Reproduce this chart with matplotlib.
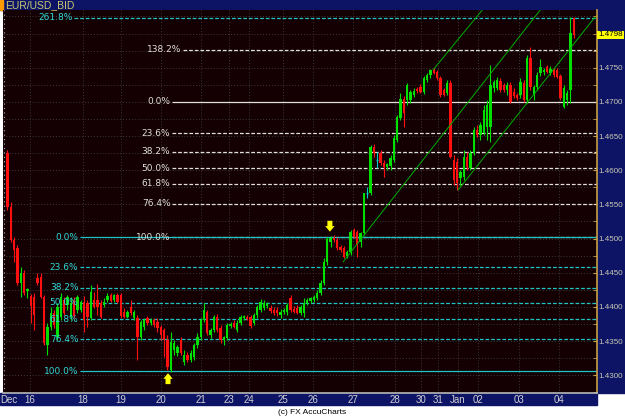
import numpy as np
import matplotlib
matplotlib.use('Agg')
import matplotlib.pyplot as plt
from matplotlib.patches import Rectangle
from matplotlib import font_manager

# ================================
# DATA  (EUR/USD, 2-hour bars)
# ================================

opens = [1.4625, 1.4546, 1.4498, 1.4486, 1.4435, 1.4450, 1.4423, 1.4416, 1.4414, 1.4442,
         1.4444, 1.4414, 1.4344, 1.4371, 1.4391, 1.4356, 1.4385, 1.4410, 1.4403, 1.4385,
         1.4410, 1.4395, 1.4395, 1.4407, 1.4406, 1.4384, 1.4410, 1.4410, 1.4406, 1.4403,
         1.4410, 1.4417, 1.4410, 1.4417, 1.4417, 1.4393, 1.4385, 1.4400, 1.4384, 1.4384,
         1.4356, 1.4371, 1.4384, 1.4376, 1.4381, 1.4378, 1.4371, 1.4366, 1.4352, 1.4308,
         1.4337, 1.4333, 1.4352, 1.4319, 1.4330, 1.4322, 1.4327, 1.4344, 1.4356, 1.4381,
         1.4393, 1.4359, 1.4366, 1.4385, 1.4369, 1.4352, 1.4354, 1.4372, 1.4376, 1.4366,
         1.4376, 1.4384, 1.4385, 1.4385, 1.4376, 1.4388, 1.4395, 1.4398, 1.4401, 1.4398,
         1.4395, 1.4395, 1.4388, 1.4393, 1.4393, 1.4413, 1.4397, 1.4398, 1.4391, 1.4391,
         1.4406, 1.4409, 1.4410, 1.4413, 1.4420, 1.4435, 1.4466, 1.4495, 1.4501, 1.4498,
         1.4487, 1.4486, 1.4474, 1.4480, 1.4512, 1.4509, 1.4495, 1.4508, 1.4567, 1.4567,
         1.4634, 1.4615, 1.4625, 1.4610, 1.4605, 1.4606, 1.4615, 1.4644, 1.4676, 1.4704,
         1.4703, 1.4703, 1.4710, 1.4719, 1.4722, 1.4714, 1.4732, 1.4739, 1.4747, 1.4744,
         1.4735, 1.4717, 1.4713, 1.4728, 1.4615, 1.4612, 1.4589, 1.4590, 1.4619, 1.4603,
         1.4625, 1.4659, 1.4651, 1.4654, 1.4663, 1.4663, 1.4720, 1.4720, 1.4730, 1.4725,
         1.4717, 1.4725, 1.4714, 1.4710, 1.4710, 1.4728, 1.4703, 1.4764, 1.4710, 1.4722,
         1.4742, 1.4744, 1.4751, 1.4742, 1.4748, 1.4747, 1.4738, 1.4692, 1.4703, 1.4717,
         1.4823]
highs = [1.4629, 1.4553, 1.4502, 1.4490, 1.4458, 1.4454, 1.4428, 1.4419, 1.4420, 1.4449,
         1.4449, 1.4417, 1.4376, 1.4400, 1.4395, 1.4406, 1.4420, 1.4414, 1.4417, 1.4414,
         1.4414, 1.4417, 1.4410, 1.4416, 1.4410, 1.4432, 1.4422, 1.4434, 1.4410, 1.4413,
         1.4420, 1.4420, 1.4419, 1.4420, 1.4420, 1.4398, 1.4395, 1.4410, 1.4395, 1.4388,
         1.4381, 1.4384, 1.4387, 1.4384, 1.4384, 1.4384, 1.4373, 1.4369, 1.4359, 1.4363,
         1.4352, 1.4344, 1.4356, 1.4337, 1.4334, 1.4337, 1.4347, 1.4362, 1.4384, 1.4406,
         1.4395, 1.4369, 1.4388, 1.4390, 1.4373, 1.4357, 1.4376, 1.4378, 1.4381, 1.4381,
         1.4388, 1.4388, 1.4388, 1.4388, 1.4391, 1.4403, 1.4412, 1.4410, 1.4407, 1.4403,
         1.4400, 1.4400, 1.4397, 1.4398, 1.4406, 1.4417, 1.4401, 1.4403, 1.4403, 1.4413,
         1.4413, 1.4414, 1.4417, 1.4425, 1.4439, 1.4471, 1.4502, 1.4504, 1.4505, 1.4502,
         1.4490, 1.4489, 1.4483, 1.4512, 1.4515, 1.4512, 1.4509, 1.4567, 1.4575, 1.4637,
         1.4638, 1.4627, 1.4630, 1.4615, 1.4611, 1.4622, 1.4651, 1.4681, 1.4713, 1.4709,
         1.4728, 1.4717, 1.4720, 1.4722, 1.4726, 1.4738, 1.4742, 1.4748, 1.4750, 1.4747,
         1.4738, 1.4720, 1.4732, 1.4732, 1.4622, 1.4618, 1.4600, 1.4630, 1.4627, 1.4630,
         1.4663, 1.4666, 1.4670, 1.4695, 1.4703, 1.4754, 1.4732, 1.4736, 1.4735, 1.4728,
         1.4729, 1.4729, 1.4720, 1.4713, 1.4735, 1.4732, 1.4769, 1.4780, 1.4725, 1.4743,
         1.4763, 1.4750, 1.4754, 1.4752, 1.4751, 1.4750, 1.4741, 1.4725, 1.4717, 1.4824,
         1.4824]
lows = [1.4542, 1.4495, 1.4466, 1.4432, 1.4414, 1.4417, 1.4413, 1.4376, 1.4366, 1.4432,
        1.4413, 1.4344, 1.4329, 1.4366, 1.4369, 1.4352, 1.4381, 1.4388, 1.4395, 1.4381,
        1.4384, 1.4391, 1.4393, 1.4363, 1.4371, 1.4381, 1.4398, 1.4388, 1.4384, 1.4400,
        1.4407, 1.4407, 1.4407, 1.4406, 1.4384, 1.4384, 1.4384, 1.4388, 1.4381, 1.4322,
        1.4352, 1.4366, 1.4374, 1.4374, 1.4371, 1.4363, 1.4352, 1.4327, 1.4308, 1.4305,
        1.4330, 1.4328, 1.4330, 1.4315, 1.4319, 1.4319, 1.4322, 1.4340, 1.4352, 1.4378,
        1.4359, 1.4354, 1.4363, 1.4363, 1.4347, 1.4344, 1.4352, 1.4369, 1.4369, 1.4363,
        1.4373, 1.4381, 1.4381, 1.4369, 1.4373, 1.4384, 1.4393, 1.4395, 1.4398, 1.4391,
        1.4388, 1.4387, 1.4384, 1.4390, 1.4388, 1.4393, 1.4391, 1.4390, 1.4388, 1.4385,
        1.4403, 1.4406, 1.4407, 1.4410, 1.4417, 1.4432, 1.4461, 1.4488, 1.4495, 1.4483,
        1.4480, 1.4472, 1.4472, 1.4476, 1.4501, 1.4473, 1.4488, 1.4505, 1.4559, 1.4564,
        1.4619, 1.4603, 1.4608, 1.4590, 1.4600, 1.4600, 1.4612, 1.4641, 1.4673, 1.4663,
        1.4695, 1.4698, 1.4707, 1.4713, 1.4713, 1.4711, 1.4729, 1.4735, 1.4741, 1.4732,
        1.4707, 1.4709, 1.4710, 1.4618, 1.4578, 1.4571, 1.4578, 1.4586, 1.4600, 1.4600,
        1.4622, 1.4649, 1.4644, 1.4651, 1.4644, 1.4641, 1.4714, 1.4717, 1.4714, 1.4714,
        1.4710, 1.4698, 1.4706, 1.4703, 1.4706, 1.4700, 1.4698, 1.4717, 1.4703, 1.4717,
        1.4738, 1.4739, 1.4742, 1.4739, 1.4736, 1.4735, 1.4703, 1.4691, 1.4695, 1.4698,
        1.4793]
closes = [1.4546, 1.4498, 1.4483, 1.4435, 1.4450, 1.4420, 1.4426, 1.4401, 1.4388, 1.4435,
          1.4414, 1.4347, 1.4371, 1.4391, 1.4373, 1.4400, 1.4414, 1.4391, 1.4414, 1.4406,
          1.4387, 1.4414, 1.4407, 1.4381, 1.4385, 1.4422, 1.4400, 1.4400, 1.4385, 1.4407,
          1.4416, 1.4409, 1.4417, 1.4407, 1.4387, 1.4385, 1.4393, 1.4391, 1.4393, 1.4356,
          1.4378, 1.4381, 1.4376, 1.4381, 1.4373, 1.4369, 1.4359, 1.4352, 1.4312, 1.4349,
          1.4347, 1.4341, 1.4333, 1.4330, 1.4322, 1.4333, 1.4344, 1.4356, 1.4381, 1.4395,
          1.4362, 1.4366, 1.4385, 1.4366, 1.4352, 1.4356, 1.4373, 1.4375, 1.4371, 1.4376,
          1.4385, 1.4387, 1.4382, 1.4372, 1.4388, 1.4400, 1.4407, 1.4406, 1.4404, 1.4394,
          1.4391, 1.4391, 1.4393, 1.4395, 1.4403, 1.4395, 1.4393, 1.4391, 1.4400, 1.4406,
          1.4410, 1.4413, 1.4414, 1.4420, 1.4435, 1.4466, 1.4499, 1.4501, 1.4498, 1.4486,
          1.4483, 1.4473, 1.4480, 1.4509, 1.4502, 1.4491, 1.4508, 1.4567, 1.4567, 1.4634,
          1.4625, 1.4615, 1.4610, 1.4605, 1.4609, 1.4618, 1.4647, 1.4678, 1.4704, 1.4684,
          1.4725, 1.4714, 1.4716, 1.4716, 1.4714, 1.4735, 1.4739, 1.4747, 1.4742, 1.4735,
          1.4710, 1.4710, 1.4728, 1.4619, 1.4586, 1.4581, 1.4597, 1.4619, 1.4605, 1.4625,
          1.4659, 1.4651, 1.4666, 1.4688, 1.4695, 1.4725, 1.4729, 1.4732, 1.4717, 1.4717,
          1.4725, 1.4700, 1.4709, 1.4706, 1.4729, 1.4703, 1.4764, 1.4722, 1.4722, 1.4739,
          1.4751, 1.4747, 1.4744, 1.4748, 1.4739, 1.4736, 1.4706, 1.4720, 1.4713, 1.4801,
          1.4798]

# x axis (bar index of each day label)
day_labels = ['Dec', '16', '18', '19', '20', '21', '23', '24', '25', '26', '27', '28',
              '30', '31', 'Jan', '02', '03', '04']
day_pos = [0.5, 6.8, 22.7, 34.1, 46.1, 58.1, 66.5, 72.5, 82.7, 91.7, 103.7, 116.4,
           124.2, 129.3, 135.3, 141.3, 153.6, 165.6]

price_ticks = [1.4300, 1.4350, 1.4400, 1.4450, 1.4500, 1.4550, 1.4600, 1.4650, 1.4700, 1.4750]
last_price = 1.4798

# fibonacci sets
fib_white_labels = ['138.2%', '0.0%', '23.6%', '38.2%', '50.0%', '61.8%', '76.4%', '100.0%']
fib_white_prices = [1.4776, 1.4700, 1.4654, 1.4627, 1.4603, 1.4580, 1.4551, 1.4502]
fib_cyan_labels = ['261.8%', '0.0%', '23.6%', '38.2%', '50.0%', '61.8%', '76.4%', '100.0%']
fib_cyan_prices = [1.4823, 1.4502, 1.4458, 1.4428, 1.4406, 1.4382, 1.4353, 1.4306]

# trend channel (start bar, start price, end bar, end price)
channel_lines = [(135.3, 1.4571, 176.4, 1.4824),
                 (100.8, 1.4466, 159.9, 1.4834),
                 (127.8, 1.4747, 142.5, 1.4834)]

# swing markers
arrow_low = (48.2, 1.4287)
arrow_high = (96.8, 1.4526)

# ================================
# FONTS / COLOURS
# ================================

try:
    font_manager.findfont('Liberation Sans Narrow', fallback_to_default=False)
    NARROW = ['Liberation Sans Narrow', 'DejaVu Sans']
    AXIS_FS = 6.5
except Exception:
    NARROW = ['Liberation Sans', 'DejaVu Sans']
    AXIS_FS = 5.8

BG = '#140003'
NAVY = '#0d1466'
UP = '#00e000'
DOWN = '#ff1010'
DOJI = '#00c8c8'
WHITE_FIB = '#e0e0d8'
CYAN_FIB = '#20c4c4'
GRID = '#3a3a3a'

W, H = 625, 419


def fx(px):
    return px / W


def fy(py):
    return 1 - py / H


# ================================
# FIGURE
# ================================

fig = plt.figure(figsize=(W / 100, H / 100), dpi=100, facecolor='white')

# bands (behind the axes)
for rect, col in [((0, fy(10), 1, 10 / H), NAVY),
                  ((fx(597), fy(393), 28 / W, 393 / H), NAVY),
                  ((0, fy(405), fx(597), 12 / H), NAVY),
                  ((0, fy(10), 3 / W, 10 / H), '#ff9900')]:
    fig.add_artist(Rectangle(rect[:2], rect[2], rect[3], transform=fig.transFigure,
                             color=col, zorder=-10))

fig.text(fx(5), fy(5), 'EUR/USD_BID', color='#c8c870', fontsize=7.5,
         family=NARROW, ha='left', va='center')
fig.text(0.5, fy(412), '(c) FX AccuCharts', color='black', fontsize=6,
         family=NARROW, ha='center', va='center')

ax = fig.add_axes([fx(3), fy(393), fx(597) - fx(3), (393 - 10) / H])
ax.set_facecolor(BG)
ax.set_xlim(-1.35, 177.0)
ax.set_ylim(1.4274, 1.48344)

# grid
for p in np.arange(1.4300, 1.4826, 0.0025):
    ax.axhline(p, color=GRID, lw=0.7, ls=(0, (1, 2)), zorder=1)
for d in day_pos[1:]:
    ax.axvline(d, color=GRID, lw=0.7, ls=(0, (1, 2)), zorder=1)

# fibonacci levels
x_right = ax.get_xlim()[1]
white_start = [52.6, 49.4, 49.4, 49.4, 49.4, 49.4, 49.4, 49.4]
for lab, p, xs in zip(fib_white_labels, fib_white_prices, white_start):
    ls = '-' if lab == '0.0%' else (0, (3, 1.5))
    ax.hlines(p, xs, x_right, color=WHITE_FIB, lw=0.9, ls=ls, zorder=2)
    ax.text(xs - 0.5, p, lab, color=WHITE_FIB, fontsize=6.5, ha='right',
            va='center', zorder=5)

cyan_start = [20.0, 21.8, 21.8, 21.8, 21.8, 21.8, 21.8, 21.8]
for lab, p, xs in zip(fib_cyan_labels, fib_cyan_prices, cyan_start):
    ls = '-' if lab in ('0.0%', '100.0%') else (0, (3, 1.5))
    ax.hlines(p, xs, x_right, color=CYAN_FIB, lw=0.9, ls=ls, zorder=2)
    ax.text(xs - 0.5, p, lab, color='#30d8d8', fontsize=6.5, ha='right',
            va='center', zorder=5)

# candles
for i, (o, h, l, c) in enumerate(zip(opens, highs, lows, closes)):
    if c > o:
        col = UP
    elif c < o:
        col = DOWN
    else:
        col = DOJI
    ax.vlines(i, l, h, color=col, lw=0.8, zorder=3)
    if c == o:
        ax.hlines(o, i - 0.35, i + 0.35, color=col, lw=1.0, zorder=3)
    else:
        ax.bar(i, c - o, bottom=o, width=0.7, color=col, linewidth=0, zorder=3)

# channel
for x0, p0, x1, p1 in channel_lines:
    ax.plot([x0, x1], [p0, p1], color='#00b000', lw=0.7, zorder=4)

# arrows
arrow_style = 'simple,head_width=0.75,head_length=0.45,tail_width=0.4'
ax.annotate('', xy=(arrow_low[0], arrow_low[1] + 0.0016), xytext=arrow_low,
            arrowprops=dict(arrowstyle=arrow_style, color='#ffff00', lw=0,
                            mutation_scale=9, shrinkA=0, shrinkB=0), zorder=6)
ax.annotate('', xy=(arrow_high[0], arrow_high[1] - 0.0016), xytext=arrow_high,
            arrowprops=dict(arrowstyle=arrow_style, color='#ffff00', lw=0,
                            mutation_scale=9, shrinkA=0, shrinkB=0), zorder=6)

# axes styling
for s in ['top', 'left']:
    ax.spines[s].set_visible(False)
ax.spines['right'].set_color('#c8a040')
ax.spines['right'].set_linewidth(1.2)
ax.spines['bottom'].set_color('#b8b8b8')
ax.spines['bottom'].set_linewidth(1.2)
ax.plot([0.001, 0.001], [0, 1], transform=ax.transAxes, color='#b0b0b0', lw=0.8,
        ls=(0, (1, 3)), clip_on=False, zorder=6)

ax.set_xticks(day_pos)
ax.set_xticklabels(day_labels, family=NARROW)
ax.tick_params(axis='x', colors='#d0d0d0', labelsize=7, length=0, pad=1.5)

ax.yaxis.tick_right()
ax.set_yticks(price_ticks)
ax.set_yticklabels([f'{p:.4f}' for p in price_ticks], family=NARROW)
ax.set_yticks(np.arange(1.4275, 1.4826, 0.0025), minor=True)
ax.tick_params(axis='y', which='both', colors='#c8a040', direction='in', length=3,
               labelsize=AXIS_FS, labelcolor='#c8c8b0', pad=1.2)

ax.text(1.002, last_price, f'{last_price:.4f}', transform=ax.get_yaxis_transform(),
        ha='left', va='center', fontsize=AXIS_FS, family=NARROW, color='black',
        bbox=dict(boxstyle='square,pad=0.1', fc='#ffff00', ec='none'), zorder=7,
        clip_on=False)

fig.savefig('out.png', dpi=100, facecolor='white')
